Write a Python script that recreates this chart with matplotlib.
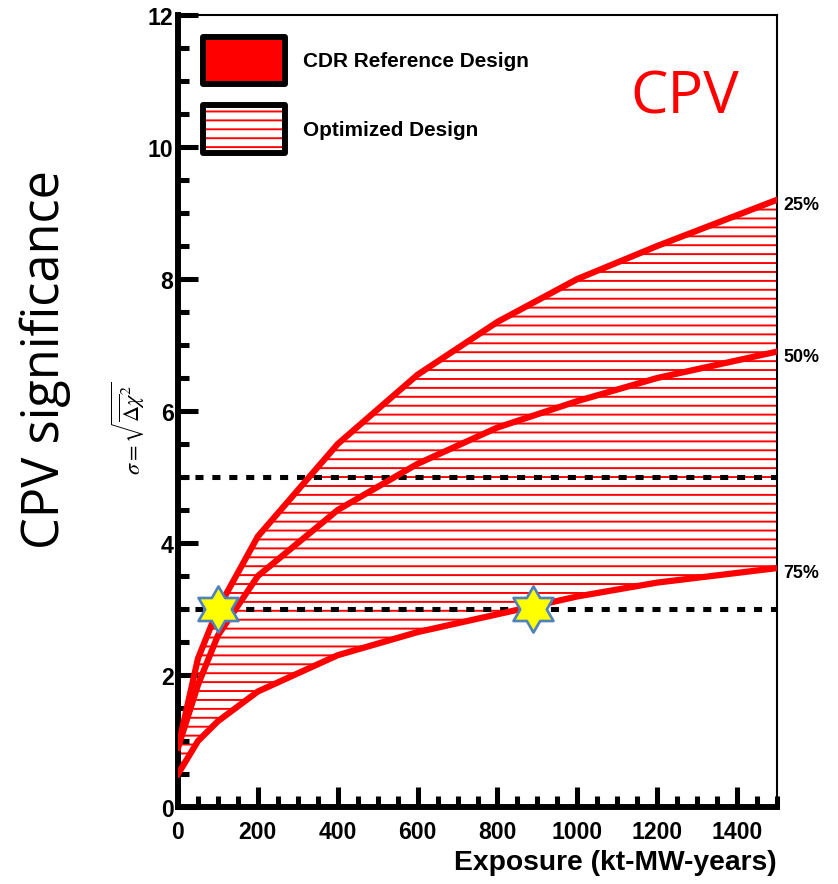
import numpy as np
import matplotlib
matplotlib.use("Agg")
import matplotlib.pyplot as plt
from matplotlib.patches import Rectangle
from matplotlib.path import Path
from matplotlib.ticker import MultipleLocator

plt.rcParams['font.family'] = ['Liberation Sans', 'DejaVu Sans']
plt.rcParams['mathtext.fontset'] = 'stix'
plt.rcParams['hatch.color'] = 'red'
plt.rcParams['hatch.linewidth'] = 1.3

# exposure (kt-MW-years) and CPV significance for 25/50/75% of delta_CP
exposure = [0, 50, 100, 200, 400, 600, 800, 1000, 1200, 1500]
sig_25 = [0.9, 2.25, 3.0, 4.1, 5.5, 6.55, 7.35, 8.0, 8.5, 9.2]
sig_50 = [0.9, 1.85, 2.6, 3.5, 4.5, 5.2, 5.75, 6.15, 6.5, 6.9]
sig_75 = [0.5, 1.0, 1.3, 1.75, 2.3, 2.65, 2.92, 3.19, 3.4, 3.62]
frac_labels = ['25%', '50%', '75%']

sigma_levels = [5, 3]
star_x = [100, 890]
star_y = [3, 3]

DPI = 107
fig = plt.figure(figsize=(838 / DPI, 885 / DPI), dpi=DPI)
ax = fig.add_axes([178 / 838, 1 - 808 / 885, 599 / 838, 792 / 885])

# band between best and worst fraction, hatched
ax.fill_between(exposure, sig_75, sig_25, facecolor='none', edgecolor='red',
                linewidth=0, hatch='--', zorder=1)
for s in (sig_25, sig_50, sig_75):
    ax.plot(exposure, s, color='red', lw=4.2, solid_joinstyle='round', zorder=3)

for lev in sigma_levels:
    ax.axhline(lev, color='black', lw=3.4, dashes=(1.6, 1.75), zorder=2)

# six pointed stars
hexagram = Path.unit_regular_star(6, 1 / np.sqrt(3))
ax.plot(star_x, star_y, ls='none', marker=hexagram, markersize=31,
        markerfacecolor='#FFFF00', markeredgecolor='#4F81BD', markeredgewidth=1.8,
        zorder=5, clip_on=False)

for lab, s in zip(frac_labels, (sig_25, sig_50, sig_75)):
    ax.annotate(lab, xy=(exposure[-1], s[-1]), xytext=(4, -3), textcoords='offset points',
                ha='left', va='center', fontsize=12, fontweight='bold',
                annotation_clip=False)

ax.set_xlim(0, 1500)
ax.set_ylim(0, 12)
ax.xaxis.set_major_locator(MultipleLocator(200))
ax.xaxis.set_minor_locator(MultipleLocator(50))
ax.yaxis.set_major_locator(MultipleLocator(2))
ax.yaxis.set_minor_locator(MultipleLocator(0.5))
ax.tick_params(which='both', direction='in', top=False, right=False, width=3.4,
               labelsize=15.5)
ax.tick_params(which='major', length=13.5)
ax.tick_params(which='minor', length=7.5)
ax.tick_params(axis='x', pad=9)
ax.tick_params(axis='y', pad=3)
plt.setp(ax.get_xticklabels() + ax.get_yticklabels(), fontweight='bold')

for side in ('left', 'bottom'):
    ax.spines[side].set_linewidth(4)
for side in ('right', 'top'):
    ax.spines[side].set_linewidth(1.4)

ax.set_xlabel('Exposure (kt-MW-years)', fontsize=19, fontweight='bold', loc='right')

# legend boxes
ax.add_patch(Rectangle((0.0417, 0.9129), 0.137, 0.0593, transform=ax.transAxes,
                       facecolor='red', edgecolor='black', lw=4, joinstyle='round', zorder=6))
ax.add_patch(Rectangle((0.0417, 0.8258), 0.137, 0.0606, transform=ax.transAxes,
                       facecolor='white', edgecolor='red', lw=0, hatch='--', zorder=6))
ax.add_patch(Rectangle((0.0417, 0.8258), 0.137, 0.0606, transform=ax.transAxes,
                       facecolor='none', edgecolor='black', lw=4, joinstyle='round', zorder=7))
ax.text(0.2087, 0.942, 'CDR Reference Design', transform=ax.transAxes,
        fontsize=14, fontweight='bold', va='center', ha='left')
ax.text(0.2087, 0.856, 'Optimized Design', transform=ax.transAxes,
        fontsize=14, fontweight='bold', va='center', ha='left')

ax.text(0.7546, 0.8775, 'CPV', transform=ax.transAxes, color='red', fontsize=40,
        family='Open Sans', va='baseline', ha='left')

fig.text(0.0537, 0.594, 'CPV significance', rotation=90, fontsize=34,
         family='Open Sans', ha='center', va='center')
fig.text(0.153, 0.516, r'$\sigma = \sqrt{\overline{\Delta\chi}^{2}}$', rotation=90,
         fontsize=15, ha='center', va='center')

fig.savefig('out.png', dpi=DPI)
